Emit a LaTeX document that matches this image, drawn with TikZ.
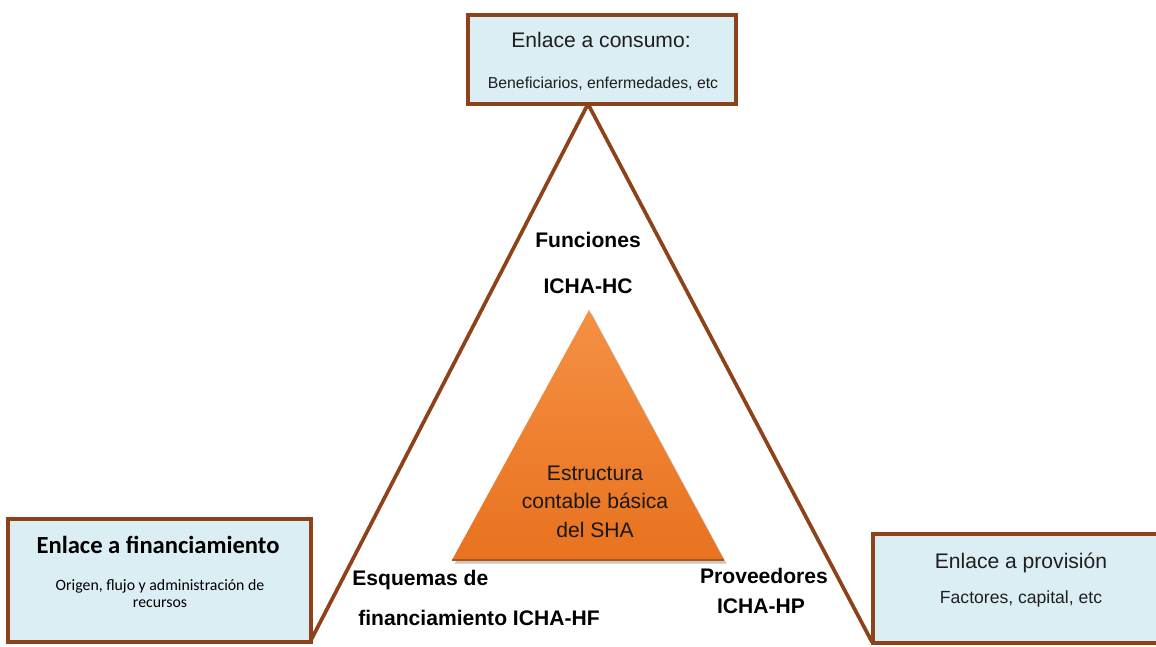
\documentclass[tikz,border=0pt]{standalone}
\usepackage{fontspec}
\setmainfont{Liberation Sans}
\newfontfamily\calibri{Carlito}
\usetikzlibrary{shadows}
\definecolor{brownline}{HTML}{8E4219}
\definecolor{boxfill}{HTML}{DBEEF3}
\definecolor{orangetop}{HTML}{F59043}
\definecolor{orangebot}{HTML}{E8721F}
\tikzset{
  linkbox/.style={draw=brownline, line width=1.9pt, fill=boxfill, inner sep=0pt},
  edge/.style={draw=brownline, line width=2.1pt},
  title/.style={anchor=base, font=\fontsize{12}{14}\selectfont, text=black!88},
  sub/.style={anchor=base, font=\fontsize{9}{11}\selectfont, text=black!88},
  tag/.style={anchor=base, font=\bfseries\fontsize{12}{14}\selectfont},
}
\begin{document}
\begin{tikzpicture}[x=0.02cm,y=-0.02cm]
	\useasboundingbox (0,0) rectangle (1156,646);

	%BIG TRIANGLE
	\coordinate (apex) at (588,104);
	\coordinate (left) at (310,642);
	\coordinate (right) at (872,642);
	\draw[edge] (left)--(apex)--(right);

	%BOXES
	\node (cons) [linkbox, minimum width=5.36cm, minimum height=1.78cm] at (602,59.5) {};
	\node (fin) [linkbox, minimum width=6.06cm, minimum height=2.46cm] at (159.5,580.5) {};
	\node (prov) [linkbox, minimum width=5.74cm, minimum height=2.18cm] at (1016.5,588.5) {};

	%CORE TRIANGLE
	\coordinate (top) at (589,310);
	\coordinate (bl) at (452,560);
	\coordinate (br) at (724,560);
	\shade[top color=orangetop, bottom color=orangebot,
	  drop shadow={opacity=0.45, shadow xshift=1.5pt, shadow yshift=-2pt}]
	  (top)--(br)--(bl)--cycle;
	\draw[orangebot!75!black, line width=0.8pt] (bl)--(br);
	\node (core1) [title, text=black!90] at (595,480) {Estructura};
	\node (core2) [title, text=black!90] at (595,508) {contable básica};
	\node (core3) [title, text=black!90] at (595,537) {del SHA};

	%LABELS
	\node (cons1) [title] at (601,47) {Enlace a consumo:};
	\node (cons2) [sub] at (603,88) {Beneficiarios, enfermedades, etc};
	%
	\node (fin1) [anchor=base, font=\calibri\bfseries\fontsize{14}{16}\selectfont] at (158,553) {Enlace a financiamiento};
	\node (fin2) [anchor=base, font=\calibri\fontsize{9}{11}\selectfont] at (160,590) {Origen, flujo y administración de};
	\node (fin3) [anchor=base, font=\calibri\fontsize{9}{11}\selectfont] at (160,607) {recursos};
	%
	\node (prov1) [title] at (1021,568) {Enlace a provisión};
	\node (prov2) [sub, font=\fontsize{10}{12}\selectfont] at (1021,603) {Factores, capital, etc};
	%
	\node (hc1) [tag] at (588,247) {Funciones};
	\node (hc2) [tag] at (588,293) {ICHA-HC};
	\node (hf1) [tag, anchor=base west, inner sep=0pt] at (352,585) {Esquemas de};
	\node (hf2) [tag, anchor=base west, inner sep=0pt] at (358,625) {financiamiento ICHA-HF};
	\node (hp1) [tag] at (764,583) {Proveedores};
	\node (hp2) [tag] at (761,613) {ICHA-HP};
\end{tikzpicture}
\end{document}
